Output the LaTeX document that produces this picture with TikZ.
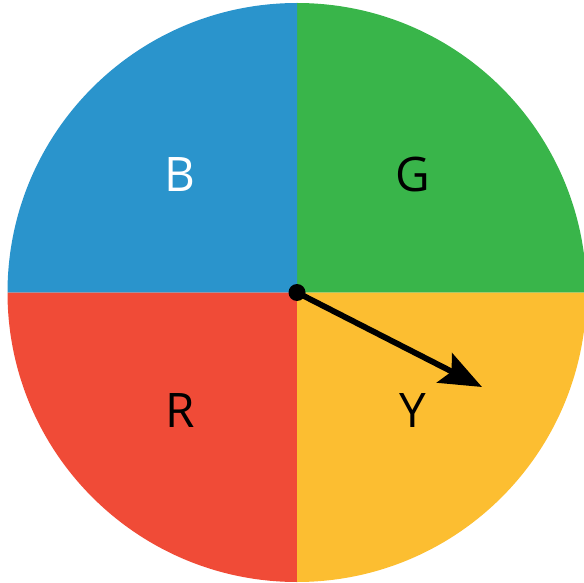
\documentclass[tikz,border=0pt]{standalone}
\usepackage{fontspec}
\setmainfont{Open Sans}
\usetikzlibrary{arrows.meta}
\definecolor{cblue}{HTML}{2A94CC}
\definecolor{cgreen}{HTML}{39B54A}
\definecolor{cred}{HTML}{F04B37}
\definecolor{cyellow}{HTML}{FCBE31}
\begin{document}
\begin{tikzpicture}[x=1pt,y=-1pt,
  lbl/.style={font=\fontsize{47.6}{50}\selectfont, anchor=base, inner sep=0pt},
  pointer/.style={line width=5.8pt, -{Stealth[length=42pt,width=33pt,inset=8pt]}}]
\useasboundingbox (0,0) rectangle (584,583);
\clip (0,0) rectangle (584,583);
\coordinate (c) at (297,292.5);
\def\R{289.5}
\fill[cgreen] (c) -- ++(\R,0) arc[start angle=0,end angle=-90,radius=\R] -- cycle;
\fill[cblue] (c) -- ++(0,-\R) arc[start angle=-90,end angle=-180,radius=\R] -- cycle;
\fill[cred] (c) -- ++(-\R,0) arc[start angle=180,end angle=90,radius=\R] -- cycle;
\fill[cyellow] (c) -- ++(0,\R) arc[start angle=90,end angle=0,radius=\R] -- cycle;
\node[lbl, text=white] (B) at (179.5,192) {B};
\node[lbl] (G) at (412.5,192) {G};
\node[lbl] (Rl) at (180,427) {R};
\node[lbl] (Y) at (412.5,427) {Y};
\coordinate (tip) at (482,387);
\draw[pointer] (c) -- (tip);
\fill (c) circle[radius=8.5];
\end{tikzpicture}
\end{document}
